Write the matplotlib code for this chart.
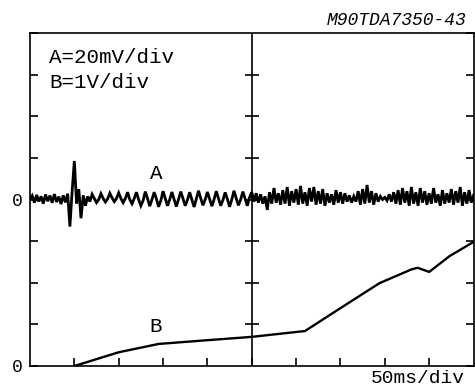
import numpy as np
import matplotlib
matplotlib.use("Agg")
import matplotlib.pyplot as plt

W, H = 475, 388

# Time axis: 50 ms/div, 10 divisions, trace A sampled every 2.5 ms
T_STEP_MS = 2.5
A_MV = [
    0.0, 1.8, -1.5, 2.2, -1.0, 1.5, -2.0, 2.4, -0.8, 1.9,
    -1.6, 2.6, -1.2, 1.4, -2.2, 2.0, -1.4, 2.8, -13.0, 4.0,
    18.5, -2.0, 5.0, -9.0, 2.0, -3.0, 1.5, -1.0, 2.5, 0.5,
    -1.5, 0.0, 2.8, 0.5, -1.2, 0.3, 3.0, 0.8, -1.0, 0.5,
    3.2, 0.5, -1.5, 0.5, 3.5, 0.0, -2.0, 0.5, 3.5, 0.0,
    -3.0, -0.5, 3.8, 0.5, -3.2, 0.0, 3.5, 0.3, -3.5, -0.5,
    4.0, 0.5, -3.0, 0.0, 3.6, 0.0, -3.4, 0.2, 3.8, 0.4,
    -3.0, -0.2, 3.5, 0.0, -3.6, 0.3, 4.2, 0.5, -2.8, 0.0,
    3.6, 0.2, -3.2, 0.0, 4.0, 0.5, -3.0, -0.3, 3.4, 0.3,
    -3.5, 0.0, 4.2, 0.5, -2.8, 0.0, 3.8, 0.4, -3.0, 1.0,
    3.5, -1.0, 3.0, -1.5, 2.5, -2.0, 1.5, -5.0, 3.5, -2.0,
    5.5, -1.5, 3.0, -2.5, 4.5, -2.0, 6.0, -3.0, 4.0, -1.5,
    5.0, -2.5, 6.5, -2.0, 3.5, -3.0, 5.5, -1.0, 6.0, -2.5,
    4.0, -2.0, 5.0, -3.0, 3.0, -1.5, 2.5, -2.5, 4.5, -1.5,
    3.5, -2.0, 3.0, -1.0, 2.0, -1.5, 1.5, -1.0, 4.0, -2.5,
    5.0, -2.0, 7.0, -1.5, 4.0, -2.5, 3.0, -1.0, 1.5, 0.0,
    1.0, -0.5, 2.5, -1.0, 3.5, -2.0, 4.5, -2.5, 5.5, -1.5,
    4.0, -3.0, 6.0, -2.0, 3.5, -3.0, 5.5, -1.5, 4.0, -2.5,
    3.0, -2.0, 5.5, -1.5, 2.5, -3.0, 4.5, -2.0, 3.0, -1.5,
    5.0, -2.5, 4.0, -1.5, 6.0, -3.0, 3.5, -2.0, 4.5, -1.5,
    2.0,
]
A_T_MS = np.arange(len(A_MV)) * T_STEP_MS

# Trace B (volts) read at its break points
B_T_MS = [50, 100, 145, 200, 250, 280, 310, 350, 394, 430, 437, 450, 473, 500]
B_V = [0.0, 0.33, 0.53, 0.62, 0.70, 0.77, 0.84, 1.39, 1.99, 2.32, 2.36, 2.26, 2.64, 2.98]

MS_PER_DIV = 50.0
A_MV_PER_DIV = 20.0
A_ZERO_DIV = 4
B_V_PER_DIV = 1.0

FONT = 'Liberation Mono'

fig = plt.figure(figsize=(W / 100, H / 100), dpi=100)
ax = fig.add_axes([30 / W, 22 / H, 443.5 / W, 333 / H])

ax.plot(A_T_MS / MS_PER_DIV, np.array(A_MV) / A_MV_PER_DIV + A_ZERO_DIV,
        color='black', lw=2.0, solid_joinstyle='miter')
ax.plot(np.array(B_T_MS) / MS_PER_DIV, np.array(B_V) / B_V_PER_DIV,
        color='black', lw=1.7)

ax.set_xlim(0, 10)
ax.set_ylim(0, 8)

# centre graticule line with cross ticks
ax.axvline(5, color='black', lw=1.2)
ax.plot(np.full(7, 5), np.arange(1, 8), ls='none', marker='_',
        ms=10, mew=1.2, color='black')

ax.set_xticks(np.arange(1, 10))
ax.set_xticklabels([])
ax.set_yticks(np.arange(0, 9))
ax.set_yticklabels(['0', '', '', '', '0', '', '', '', ''],
                   fontfamily=FONT, fontsize=13)
ax.tick_params(axis='x', direction='in', length=6, width=1.2)
ax.tick_params(axis='y', direction='in', length=6, width=1.2,
               left=True, right=True, pad=5)
for sp in ax.spines.values():
    sp.set_linewidth(1.2)

def ftext(x, y, s, **kw):
    fig.text(x / W, 1 - y / H, s, fontfamily=FONT, color='black', **kw)

ftext(467, 25, 'M90TDA7350-43', ha='right', va='baseline', fontsize=13,
      style='italic')
ftext(49, 63, 'A=20mV/div', ha='left', va='baseline', fontsize=15)
ftext(49, 88, 'B=1V/div', ha='left', va='baseline', fontsize=15)
ftext(156, 179, 'A', ha='center', va='baseline', fontsize=15)
ftext(156, 332, 'B', ha='center', va='baseline', fontsize=15)
ftext(465, 387, '50ms/div', ha='right', va='bottom', fontsize=14)

fig.savefig('out.png', dpi=100, facecolor='white')
